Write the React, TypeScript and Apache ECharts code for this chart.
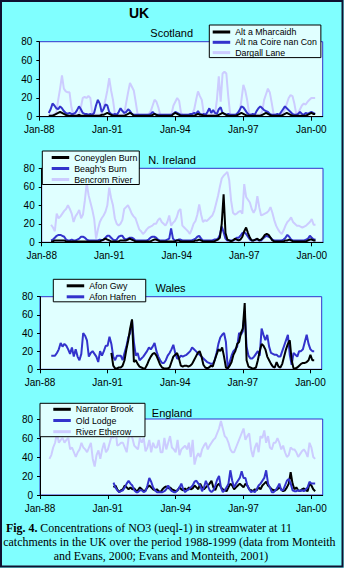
import React, { useEffect, useRef } from 'react';
import * as echarts from 'echarts';

// ---------- tick labels / axes ----------
const tickLabels = ['Jan-88', 'Jan-91', 'Jan-94', 'Jan-97', 'Jan-00'];
const monthsPerTick = 36;
const monthCount = 151; // Jan-88 .. Jul-00
const yMin = 0;
const yMax = 80;
const yInterval = 20;

// ---------- Scotland (start Jun-88, month index 5) ----------
const scotStart = 5;
const altAMharcaidh = [
  1, 1, 1, 2, 3, 4, 5, 4, 3, 2, 1, 1, 1, 1, 1, 1, 2, 1, 1, 1,
  1, 1, 1, 1, 1, 1, 1, 1, 2, 2, 3, 4, 3, 2, 1, 1, 1, 1, 1, 1,
  1, 2, 3, 4, 3, 1, 1, 1, 1, 1, 1, 1, 1, 1, 1, 2, 3, 2, 1, 1,
  1, 1, 1, 1, 1, 1, 3, 4, 3, 2, 1, 1, 1, 1, 1, 1, 1, 1, 2, 3,
  2, 2, 1, 1, 1, 1, 1, 1, 1, 1, 2, 3, 4, 3, 2, 1, 1, 1, 1, 1,
  2, 3, 4, 3, 2, 1, 1, 1, 1, 1, 1, 1, 1, 2, 3, 4, 3, 2, 1, 1,
  1, 1, 1, 1, 2, 3, 4, 3, 2, 1, 1, 1, 1, 1, 1, 1, 1, 2, 3, 4,
  3, 3,
];
const altNaCoireNanCon = [
  4, 8, 14, 12, 9, 8, 11, 9, 6, 4,
  3, 4, 3, 3, 4, 7, 11, 8, 4, 3,
  3, 2, 3, 2, 4, 12, 18, 14, 5, 8,
  13, 12, 5, 3, 2, 3, 2, 5, 9, 6,
  4, 5, 8, 6, 3, 2, 2, 2, 2, 2,
  2, 2, 2, 2, 3, 5, 3, 2, 2, 2,
  2, 2, 2, 2, 2, 2, 3, 5, 4, 3,
  2, 2, 2, 2, 2, 3, 3, 4, 3, 6,
  3, 2, 3, 2, 5, 9, 4, 7, 4, 3,
  8, 10, 4, 3, 2, 3, 2, 2, 2, 2,
  4, 7, 11, 10, 7, 4, 2, 2, 3, 2,
  6, 9, 11, 9, 7, 6, 5, 3, 2, 2,
  2, 3, 2, 5, 8, 11, 9, 7, 5, 3,
  2, 2, 3, 5, 3, 2, 4, 3, 4, 5, 4, 3,
];
const dargallLane = [
  2, 2, 2, 3, 4,
  18, 30, 44, 30, 27, 26, 26, 10, 2,
  2, 2, 2,
  10, 20, 21, 20, 22, 20, 4,
  2, 2, 2, 2, 3,
  10, 18, 28, 41, 28, 18, 3,
  2, 2, 2, 2, 3,
  15, 26, 36, 32, 28, 16, 3,
  2, 2, 2, 2, 2, 3,
  6, 12, 18, 16, 10, 2,
  2, 2, 2, 2, 2, 3,
  12, 16, 20, 17, 4,
  2, 2, 2, 2, 2, 3,
  8, 18, 27, 22, 18, 4,
  2, 2, 2, 2, 2, 3,
  18, 43, 16, 46, 48, 46, 22, 3,
  2, 2, 2, 2, 5,
  18, 34, 28, 18, 4,
  2, 2, 3, 2, 2, 2,
  6, 18, 24, 30, 26, 15, 3,
  2, 2, 2, 2, 4, 8,
  14, 20, 23, 22, 14, 3,
  4, 8, 12, 14, 13, 16, 18, 20, 20, 20,
];

// ---------- N. Ireland (start month index 5) ----------
const niStart = 5;
const coneyglenBurn = [
  1, 1, 2, 2, 2, 2, 2, 2, 1, 1,
  1, 1, 1, 1, 1, 1, 1, 1, 1, 1,
  1, 1, 1, 1, 1, 1, 1, 2, 3, 4,
  3, 2, 1, 1, 1, 1, 1, 2, 2, 2,
  2, 3, 4, 3, 2, 1, 1, 1, 1, 1,
  1, 1, 1, 1, 2, 3, 3, 2, 1, 1,
  1, 1, 1, 1, 1, 1, 1, 2, 2, 1,
  1, 1, 1, 1, 1, 1, 1, 2, 2, 3,
  2, 1, 1, 1, 1, 1, 1, 1, 2, 3,
  5, 20, 52, 10, 3, 2, 1, 2, 4, 3,
  2, 3, 6, 12, 16, 10, 5, 2, 2, 3,
  4, 2, 3, 5, 8, 9, 8, 5, 2, 1,
  1, 1, 1, 1, 1, 2, 2, 3, 2, 1,
  1, 1, 1, 1, 1, 1, 1, 2, 3, 3, 2, 2,
];
const beaghsBurn = [
  2, 3, 5, 7, 8, 8, 7, 6, 3, 2,
  2, 3, 2, 2, 3, 4, 6, 6, 5, 3,
  2, 2, 2, 2, 2, 2, 3, 2, 3, 5,
  7, 7, 5, 3, 2, 3, 6, 7, 7, 4,
  3, 4, 5, 5, 4, 2, 2, 2, 2, 2,
  2, 2, 3, 5, 6, 6, 5, 3, 2, 2,
  2, 2, 3, 4, 15, 4, 2, 2, 3, 3,
  2, 2, 2, 2, 2, 2, 3, 4, 6, 7,
  4, 2, 2, 2, 2, 2, 2, 3, 3, 4,
  8, 17, 11, 4, 2, 2, 2, 2, 3, 5,
  5, 7, 10, 11, 9, 6, 3, 2, 2, 3,
  3, 2, 2, 4, 6, 7, 6, 5, 3, 2,
  2, 2, 2, 2, 3, 5, 8, 6, 3, 2,
  2, 2, 2, 2, 2, 2, 3, 4, 7, 5, 3, 3,
];
const bencromRiver = [
  19, 16, 12, 31, 26, 28, 31, 34, 36, 40,
  36, 31, 22, 28, 31, 35, 26, 30, 45, 64,
  51, 43, 35, 25, 4, 14, 22, 26, 29, 33,
  40, 59, 48, 40, 26, 20, 18, 20, 24, 36,
  38, 40, 36, 31, 28, 26, 20, 14, 12, 9,
  11, 14, 16, 17, 18, 20, 20, 24, 26, 22,
  20, 18, 22, 29, 18, 21, 23, 27, 34, 36,
  18, 16, 14, 12, 9, 14, 20, 23, 30, 41,
  30, 22, 24, 23, 25, 27, 29, 34, 42, 50,
  60, 69, 72, 74, 76, 67, 45, 32, 30, 31,
  33, 34, 31, 63, 49, 46, 43, 36, 32, 36,
  50, 38, 29, 30, 31, 32, 34, 38, 32, 24,
  18, 14, 11, 9, 13, 18, 22, 24, 27, 22,
  20, 18, 18, 17, 16, 17, 18, 20, 22, 25, 19, 19,
];

// ---------- Wales ----------
const hafrenStart = 6;
const afonHafren = [
  15, 15, 15, 18, 22, 29, 25, 28, 26, 22,
  17, 24, 14, 22, 14, 10, 17, 40, 37, 32,
  14, 18, 20, 17, 14, 8, 20, 15, 20, 26,
  26, 36, 28, 14, 10, 15, 15, 15, 10, 18,
  25, 35, 40, 54, 30, 15, 18, 10, 12, 14,
  17, 20, 24, 22, 25, 29, 20, 14, 10, 7,
  7, 10, 15, 18, 22, 27, 18, 12, 12, 15,
  14, 15, 16, 18, 20, 24, 22, 20, 18, 16,
  14, 12, 10, 8, 7, 6, 6, 10, 18, 28,
  35, 38, 40, 30, 0, 8, 15, 20, 22, 25,
  40, 38, 42, 63, 25, 15, 12, 12, 14, 17,
  20, 15, 45, 38, 32, 38, 25, 18, 17, 16,
  16, 14, 14, 20, 26, 32, 38, 16, 5, 18,
  16, 14, 20, 20, 22, 30, 38, 28, 22, 20, 20,
];
const gwyStart = 38;
const afonGwy = [
  18, 4, 1, 1, 2, 2, 4, 10, 22, 32,
  45, 55, 8, 10, 6, 3, 2, 1, 1, 5,
  10, 14, 17, 18, 15, 10, 5, 2, 1, 1,
  1, 2, 8, 14, 16, 18, 12, 4, 3, 4,
  4, 3, 4, 6, 10, 14, 18, 20, 14, 5,
  2, 1, 2, 4, 3, 10, 16, 22, 20, 24,
  14, 2, 1, 4, 8, 16, 20, 28, 30, 40,
  45, 73, 10, 3, 2, 1, 1, 2, 10, 20,
  28, 26, 22, 14, 10, 6, 3, 2, 8, 3,
  2, 6, 14, 22, 28, 32, 10, 1, 1, 2,
  4, 6, 7, 7, 8, 10, 16, 10, 10,
];

// ---------- England ----------
const etherowStart = 5;
const riverEtherow = [
  38, 42, 50, 55, 65, 55, 58, 60, 55, 58,
  60, 48, 50, 45, 40, 45, 48, 55, 50, 48,
  45, 50, 55, 38, 30, 42, 47, 38, 48, 55,
  45, 48, 55, 62, 60, 70, 52, 53, 55, 55,
  50, 45, 60, 65, 60, 52, 50, 48, 60, 55,
  60, 46, 50, 58, 45, 55, 50, 50, 58, 45,
  45, 60, 48, 55, 62, 50, 48, 45, 58, 42,
  48, 50, 52, 48, 55, 40, 58, 32, 40, 44,
  40, 48, 52, 55, 48, 52, 55, 58, 60, 65,
  70, 78, 70, 62, 60, 55, 48, 45, 45, 50,
  55, 60, 65, 70, 58, 62, 65, 48, 40, 50,
  55, 45, 62, 60, 68, 55, 62, 50, 48, 55,
  55, 60, 55, 48, 52, 45, 40, 42, 50, 48,
  48, 45, 40, 43, 46, 48, 45, 40, 55, 50, 40, 38,
];
const englandStart = 39;
const oldLodge = [
  13, 8, 5, 3, 4, 5, 8, 12, 15, 12,
  10, 5, 3, 3, 5, 5, 3, 4, 10, 18,
  14, 8, 5, 3, 3, 3, 3, 4, 6, 10,
  6, 4, 3, 3, 5, 8, 12, 6, 3, 5,
  6, 8, 10, 14, 15, 12, 10, 4, 8, 15,
  10, 5, 3, 5, 10, 16, 20, 8, 3, 5,
  8, 12, 26, 15, 8, 12, 15, 18, 25, 18,
  18, 10, 6, 3, 4, 3, 6, 10, 12, 15,
  18, 26, 12, 8, 3, 3, 5, 8, 12, 5,
  5, 10, 15, 17, 12, 5, 4, 4, 5, 4,
  5, 4, 6, 8, 14, 12, 12, 12,
];
const narratorBrook = [
  8, 10, 6, 3, 5, 6, 10, 8, 6, 8,
  6, 7, 4, 5, 8, 6, 4, 5, 8, 10,
  8, 6, 5, 6, 4, 3, 6, 8, 9, 7,
  8, 6, 5, 4, 5, 8, 6, 5, 7, 5,
  8, 6, 7, 10, 8, 6, 12, 8, 6, 8,
  10, 12, 15, 8, 5, 10, 12, 8, 6, 5,
  4, 8, 12, 10, 6, 8, 10, 12, 10, 8,
  12, 10, 6, 5, 4, 6, 5, 8, 6, 10,
  12, 14, 10, 8, 6, 5, 5, 6, 8, 6,
  4, 5, 8, 12, 24, 12, 6, 8, 5, 4,
  6, 7, 5, 4, 12, 10, 6, 4,
];

// ---------- colours ----------
const BLACK = '#000000';
const BLUE = '#3333CC';
const LAVENDER = '#CCCCFF';
const FONT = '"Liberation Sans", Arial, sans-serif';
const SERIF = '"Liberation Serif", "Times New Roman", serif';

const pad = (start: number, arr: number[]) =>
  (new Array(start).fill(null) as (number | null)[]).concat(arr);

const categories = Array.from({ length: monthCount }, (_, i) => String(i));

const grids = [
  { left: 39.3, top: 41.7, width: 283.4, height: 75 },
  { left: 41.7, top: 168.3, width: 281.3, height: 74 },
  { left: 40, top: 296.7, width: 281.7, height: 72.6 },
  { left: 40, top: 419, width: 282.7, height: 76 },
];

export default function App() {
  const ref = useRef<HTMLDivElement>(null);
  useEffect(() => {
    if (!ref.current) return;
    const chart = echarts.init(ref.current, undefined, { renderer: 'svg' });

    const xAxes = grids.map((_, gi) => ({
      type: 'category',
      gridIndex: gi,
      data: categories,
      boundaryGap: false,
      axisLine: { show: true, lineStyle: { color: BLACK, width: 1 } },
      axisTick: {
        show: true,
        length: 4,
        interval: (i: number) => i % monthsPerTick === 0,
        lineStyle: { color: BLACK },
      },
      axisLabel: {
        interval: (i: number) => i % monthsPerTick === 0,
        formatter: (_v: string, i: number) => tickLabels[Math.round(i / monthsPerTick)] ?? '',
        fontSize: 10,
        fontFamily: FONT,
        color: BLACK,
        margin: 8,
      },
      splitLine: { show: false },
    }));
    const yAxes = grids.map((_, gi) => ({
      type: 'value',
      gridIndex: gi,
      min: yMin,
      max: yMax,
      interval: yInterval,
      axisLine: { show: true, lineStyle: { color: BLACK, width: 1 } },
      axisTick: { show: true, length: 3, lineStyle: { color: BLACK } },
      axisLabel: { fontSize: 10, fontFamily: FONT, color: BLACK, margin: 7 },
      splitLine: { show: false },
    }));

    const mk = (name: string, gi: number, color: string, data: (number | null)[], z: number) => ({
      name,
      type: 'line',
      xAxisIndex: gi,
      yAxisIndex: gi,
      data,
      showSymbol: false,
      symbol: 'none',
      z,
      itemStyle: { color },
      lineStyle: { color, width: 2 },
      emphasis: { disabled: true },
    });

    const series = [
      mk('Dargall Lane', 0, LAVENDER, pad(scotStart, dargallLane), 2),
      mk('Alt na Coire nan Con', 0, BLUE, pad(scotStart, altNaCoireNanCon), 3),
      mk('Alt a Mharcaidh', 0, BLACK, pad(scotStart, altAMharcaidh), 4),
      mk('Bencrom River', 1, LAVENDER, pad(niStart, bencromRiver), 2),
      mk("Beagh's Burn", 1, BLUE, pad(niStart, beaghsBurn), 3),
      mk('Coneyglen Burn', 1, BLACK, pad(niStart, coneyglenBurn), 4),
      mk('Afon Hafren', 2, BLUE, pad(hafrenStart, afonHafren), 3),
      mk('Afon Gwy', 2, BLACK, pad(gwyStart, afonGwy), 4),
      mk('River Etherow', 3, LAVENDER, pad(etherowStart, riverEtherow), 2),
      mk('Narrator Brook', 3, BLACK, pad(englandStart, narratorBrook), 3),
      mk('Old Lodge', 3, BLUE, pad(englandStart, oldLodge), 4),
    ];

    const legendBase = {
      orient: 'vertical',
      icon: 'rect',
      itemWidth: 17.5,
      itemHeight: 3,
      backgroundColor: '#E0FFFF',
      borderColor: BLACK,
      borderWidth: 1,
      borderRadius: 0,
      selectedMode: false,
      textStyle: { fontSize: 8.8, lineHeight: 10, color: BLACK, fontFamily: FONT },
      z: 10,
    };
    const legends = [
      { ...legendBase, left: 209.3, top: 25, itemGap: 0.3, padding: [2, 4, 0, 3.4],
        data: ['Alt a Mharcaidh', 'Alt na Coire nan Con', 'Dargall Lane'] },
      { ...legendBase, left: 42.3, top: 151, itemGap: 1, padding: [1.5, 2, 0, 9.4],
        data: ['Coneyglen Burn', "Beagh's Burn", 'Bencrom River'] },
      { ...legendBase, left: 53.3, top: 279.3, itemGap: 1, padding: [1.5, 9.6, 0, 13.4],
        data: ['Afon Gwy', 'Afon Hafren'] },
      { ...legendBase, left: 40, top: 403.3, itemGap: 1.2, padding: [1, 11.5, 0, 13.3],
        data: ['Narrator Brook', 'Old Lodge', 'River Etherow'] },
    ];

    const label = (text: string, x: number, y: number, size: number, weight = 'normal') => ({
      type: 'text',
      x,
      y,
      z: 20,
      style: {
        text,
        fill: BLACK,
        fontSize: size,
        fontWeight: weight,
        fontFamily: FONT,
        align: 'center',
        verticalAlign: 'middle',
        textAlign: 'center',
        textVerticalAlign: 'middle',
      },
    });
    const caption = (text: string, x: number, y: number, align = 'left') => ({
      type: 'text',
      x,
      y,
      z: 20,
      style: {
        text,
        fill: BLACK,
        fontSize: 11.9,
        fontFamily: SERIF,
        align,
        verticalAlign: 'middle',
        textAlign: align,
        textVerticalAlign: 'middle',
        rich: {
          b: { fontWeight: 'bold', fontSize: 11.9, fontFamily: SERIF, fill: BLACK },
        },
      },
    });

    chart.setOption({
      animation: false,
      backgroundColor: '#80FFFF',
      grid: grids.map((g) => ({
        ...g,
        show: true,
        backgroundColor: '#E0FFFF',
        borderColor: BLUE,
        borderWidth: 1,
        containLabel: false,
      })),
      xAxis: xAxes,
      yAxis: yAxes,
      legend: legends,
      series,
      graphic: [
        {
          type: 'rect',
          shape: { x: 1, y: 1, width: 341.5, height: 565.5 },
          style: { fill: 'none', stroke: '#101030', lineWidth: 2 },
          z: 30,
          silent: true,
        },
        label('UK', 139, 12.5, 14, 'bold'),
        label('Scotland', 171.7, 33.3, 11),
        label('N. Ireland', 172, 160, 11),
        label('Wales', 170.5, 287.7, 11),
        label('England', 172, 412.7, 11),
        caption('{b|Fig. 4.} Concentrations of NO3 (ueql-1) in streamwater at 11', 6, 527.7),
        caption('catchments in the UK over the period 1988-1999 (data from Monteith', 3.3, 542.3),
        caption('and Evans, 2000; Evans and Monteith, 2001)', 161, 556, 'center'),
      ],
    });
    return () => chart.dispose();
  }, []);

  return (
    <div
      ref={ref}
      style={{ position: 'fixed', left: 0, top: 0, width: 344, height: 568 }}
    />
  );
}
